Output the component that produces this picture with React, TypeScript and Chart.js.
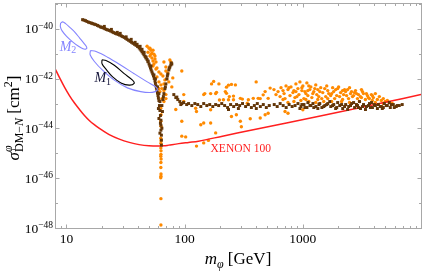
import React, { useEffect, useRef } from 'react';
import Chart from 'chart.js/auto';

// ---------- axis ranges ----------
const X_MIN = 8;
const X_MAX = 10000;
const Y_MIN = 1e-48;
const Y_MAX = 1e-39;
const xMajorTicks = [10, 100, 1000];
const xTickLabels = ['10', '100', '1000'];
const yMajorExps = [-40, -42, -44, -46, -48];
const yMinorExps = [-39, -41, -43, -45, -47];

// ---------- data: [mass (GeV), log10(sigma / cm^2)] ----------
const xenon100: [number, number][] = [
  [8.0, -41.59], [8.76, -41.97], [9.65, -42.35], [10.6, -42.68], [11.7, -42.98], [12.9, -43.24],
  [14.2, -43.48], [15.6, -43.68], [17.2, -43.85], [19.0, -44.0], [20.9, -44.13], [23.0, -44.25],
  [28.0, -44.43], [34.0, -44.56], [41.2, -44.65], [49.9, -44.7], [60.6, -44.71], [66.8, -44.7],
  [73.5, -44.67], [89.2, -44.61], [108, -44.56], [131, -44.51], [209, -44.31], [419, -44.01],
  [1340, -43.52], [3520, -43.1], [10000, -42.64],
];

const contourM2: [number, number][] = [
  [8.93, -39.77], [9.28, -39.72], [9.84, -39.79], [10.63, -39.93], [11.71, -40.12], [12.9, -40.36],
  [14.07, -40.58], [14.85, -40.74], [14.63, -40.81], [13.8, -40.8], [12.65, -40.7], [11.27, -40.52],
  [10.03, -40.3], [9.19, -40.08], [8.88, -39.91], [8.93, -39.77],
];

const contourM1Outer: [number, number][] = [
  [15.95, -40.87], [17.82, -40.91], [22.3, -41.14], [28.9, -41.46], [37.4, -41.8], [48.3, -42.13],
  [56.9, -42.33], [58.6, -42.46], [53.2, -42.55], [42.5, -42.52], [32.8, -42.37], [25.4, -42.06],
  [20.2, -41.66], [17.24, -41.31], [15.86, -41.04], [15.95, -40.87],
];

const contourM1Inner: [number, number][] = [
  [20.0, -41.24], [21.6, -41.27], [25.4, -41.46], [30.8, -41.8], [36.2, -42.06], [37.4, -42.19],
  [33.9, -42.26], [28.9, -42.17], [24.6, -41.93], [21.6, -41.62], [20.0, -41.4], [20.0, -41.24],
];

const brownLeftBranch: [number, number][] = [
  [13.7, -39.63], [14.5, -39.67], [15.35, -39.73], [16.3, -39.77], [17.2, -39.81], [18.3, -39.86],
  [19.4, -39.92], [20.5, -39.96], [21.7, -40.02], [23.0, -40.06], [24.4, -40.12], [25.9, -40.18],
  [27.4, -40.22], [29.1, -40.28], [30.8, -40.34], [32.6, -40.42], [34.6, -40.5], [36.6, -40.58],
  [38.8, -40.66], [41.2, -40.76], [42.8, -40.86], [44.5, -40.98], [46.2, -41.1], [48.1, -41.23],
  [50.0, -41.41], [51.4, -41.57], [52.9, -41.73], [54.5, -41.89], [56.1, -42.09], [57.2, -42.29],
  [58.3, -42.48], [59.5, -42.68], [60.6, -42.88], [61.2, -43.08], [61.8, -43.28], [62.4, -43.48],
  [63.0, -43.67], [63.0, -43.87], [63.0, -44.07], [63.6, -44.27], [63.6, -44.47], [63.6, -44.67],
  [20.9, -39.9], [24.0, -40.02], [26.9, -40.14], [28.5, -40.18], [32.0, -40.32], [35.3, -40.42],
  [38.1, -40.54], [39.6, -40.62], [42.0, -40.7], [43.6, -40.82], [45.4, -40.94], [47.1, -41.13],
  [49.0, -41.29], [51.9, -41.49], [55.0, -41.85], [56.6, -42.01], [58.9, -42.33], [60.6, -42.6],
  [61.8, -42.92], [60.0, -43.2], [62.4, -43.79], [61.8, -44.19], [64.2, -43.99], [60.6, -43.6],
  [64.9, -43.32],
  [14.1, -39.65], [14.9, -39.7], [15.8, -39.75], [16.7, -39.79], [17.7, -39.83], [18.8, -39.89],
  [19.9, -39.94], [21.1, -39.99], [22.3, -40.04], [23.7, -40.09], [25.1, -40.15], [26.6, -40.2],
  [28.2, -40.25], [29.9, -40.31], [31.7, -40.38], [33.6, -40.46], [35.6, -40.54], [37.7, -40.62],
  [40.0, -40.71], [42.0, -40.81], [43.6, -40.92], [45.3, -41.04], [47.1, -41.17], [49.0, -41.32],
  [50.7, -41.49], [52.1, -41.65], [53.7, -41.81], [55.3, -41.99], [56.6, -42.19], [57.7, -42.38],
  [58.9, -42.58], [60.0, -42.78],
];

const brownRightBranch: [number, number][] = [
  [64.2, -43.08], [65.5, -42.84], [66.8, -42.6], [68.1, -42.4], [69.4, -42.21], [70.7, -42.01],
  [72.1, -41.81], [73.5, -41.65], [75.0, -41.53], [76.4, -41.45], [77.9, -41.41], [66.1, -42.72],
  [68.7, -42.33], [71.4, -41.89], [74.2, -41.57], [77.2, -41.37],
  [81.0, -42.64], [84.2, -42.76], [87.5, -42.84], [91.0, -42.92], [94.6, -43.0], [85.9, -42.74],
  [92.8, -43.04],
];

const brownPlateau: [number, number][] = [
  [98, -42.96], [104, -43.04], [108, -43.0], [115, -43.08], [122, -43.0], [129, -43.04], [137, -43.12],
  [145, -43.0], [154, -43.08], [163, -43.04], [173, -43.12], [183, -43.04], [194, -43.08], [206, -43.0],
  [218, -43.08], [231, -43.16], [245, -43.04], [260, -43.12], [275, -43.04], [292, -43.08], [309, -43.0],
  [328, -43.12], [346, -43.04], [367, -43.16], [389, -43.08], [412, -43.0], [437, -43.12], [463, -43.04],
  [491, -43.16], [520, -43.08], [573, -43.04], [607, -43.12], [643, -43.0], [682, -43.08], [723, -43.16],
  [766, -43.04], [812, -43.12], [860, -43.08], [910, -43.0], [965, -43.12], [1023, -43.04], [1084, -43.16],
  [1149, -43.08], [1218, -43.0], [1291, -43.12], [1368, -43.04], [1450, -43.16], [1537, -43.08],
  [1626, -43.0], [1724, -43.12], [1827, -43.04], [1936, -43.16], [2052, -43.08], [2175, -43.2],
  [2305, -43.04], [2443, -43.12], [2589, -43.0], [2744, -43.16], [2904, -43.08], [3078, -43.2],
  [3262, -43.04], [3457, -43.12], [3664, -43.0], [3883, -43.16], [4115, -43.08], [4362, -43.04],
  [4622, -43.12], [4898, -43.0], [5188, -43.08], [5500, -43.16], [5830, -43.04], [6178, -43.12],
  [6547, -43.08], [6934, -43.04],
  [945, -43.2], [1104, -42.96], [1340, -43.2], [1690, -42.92], [1972, -42.96], [2393, -43.24],
  [2690, -42.96], [3020, -42.92], [3390, -43.24], [3810, -42.96], [4276, -43.2], [4800, -43.16],
  [5390, -42.96], [235, -43.24], [285, -43.2], [404, -43.2],
  [982, -43.04], [1041, -43.16], [1169, -43.08], [1238, -43.16], [1392, -43.0], [1503, -43.12],
  [1593, -43.04], [1788, -43.08], [1896, -43.2], [2129, -43.04], [2256, -43.12], [2534, -43.08],
  [2846, -43.04], [2958, -43.16], [3196, -43.12], [3589, -43.08], [3731, -43.16], [4030, -43.04],
  [4526, -43.12], [4705, -43.2], [5088, -43.08], [5610, -43.04], [5940, -43.16], [6295, -43.08],
];

const orangeResonance: [number, number][] = [
  [62.8, -43.19], [63.2, -43.45], [62.9, -43.71], [63.1, -43.91], [62.8, -44.39], [63.2, -44.49],
  [63.0, -44.59], [62.9, -44.79], [63.1, -44.9], [63.0, -45.04], [62.8, -45.12], [63.2, -45.23],
  [63.0, -45.37], [62.9, -45.57], [63.1, -45.83], [63.0, -45.92], [62.8, -45.98], [63.0, -46.82],
  [63.0, -47.88],
];

const orangeLowMass: [number, number][] = [
  [48.1, -40.7], [50.0, -40.78], [51.9, -40.86], [52.9, -40.98], [55.0, -41.02], [50.9, -41.09],
  [52.9, -41.17], [54.0, -41.29], [56.1, -41.21], [55.0, -41.41], [57.2, -41.61], [63.0, -41.81],
  [69.4, -41.53], [76.4, -41.33], [66.8, -41.33], [75.0, -41.25], [69.4, -41.69], [72.1, -41.77],
  [70.7, -42.01], [66.8, -42.21], [77.9, -42.33], [60.6, -42.4], [58.3, -41.93], [60.6, -42.13],
  [63.0, -42.25], [64.2, -42.4], [66.8, -42.48], [69.4, -42.64], [64.2, -42.8], [66.8, -42.92],
  [84.2, -43.24], [94.6, -41.69], [98.3, -42.64], [98.3, -42.92],
  [49.0, -40.94], [50.9, -40.78], [54.0, -40.86], [51.9, -41.02], [56.1, -41.09], [57.2, -41.33],
  [54.0, -41.49], [58.3, -41.57], [60.6, -41.73], [65.5, -41.89], [68.1, -42.05], [73.5, -42.13],
  [79.4, -41.97], [61.8, -42.52], [69.4, -42.8],
];

const orangeMidMass: [number, number][] = [
  [124, -43.19], [126, -43.32], [145, -42.64], [148, -42.6], [166, -42.6], [169, -42.21], [176, -42.11],
  [183, -42.6], [186, -42.55], [195, -42.21], [197, -42.86], [221, -42.52], [226, -42.34], [226, -42.59],
  [235, -42.26], [239, -42.72], [249, -42.23], [259, -42.7], [269, -42.25], [213, -42.85], [235, -42.85],
  [259, -42.85], [296, -42.79], [308, -42.82], [346, -42.85], [381, -42.79], [403, -42.13], [419, -42.79],
  [436, -42.8], [462, -42.65], [480, -42.52], [529, -42.38], [509, -42.79], [339, -42.99],
  [145, -43.78], [166, -43.78], [183, -44.18], [249, -43.52], [274, -43.45], [296, -43.71], [302, -43.93],
  [359, -43.61], [436, -43.58], [480, -43.45], [509, -43.39], [707, -43.32], [749, -43.39], [1001, -43.25],
  [166, -43.25], [94.6, -43.71], [137, -43.85], [94.6, -44.31], [102, -44.34], [126, -44.71],
  [145, -44.58], [159, -44.48],
];

const orangeHighMass: [number, number][] = [
  [654, -42.36], [721, -42.29], [794, -42.33], [874, -42.21], [945, -42.13], [1001, -42.29], [1082, -42.17],
  [1169, -42.33], [1287, -42.25], [1418, -42.36], [1593, -42.29], [1788, -42.36], [2009, -42.33],
  [2256, -42.44], [2485, -42.36], [2791, -42.48], [3134, -42.44],
  [617, -42.52], [680, -42.48], [749, -42.44], [825, -42.56], [909, -42.4], [982, -42.48], [1061, -42.6],
  [1146, -42.44], [1238, -42.52], [1338, -42.44], [1474, -42.56], [1624, -42.48], [1754, -42.6],
  [1896, -42.44], [2088, -42.56], [2300, -42.52], [2534, -42.6], [2737, -42.56], [2958, -42.64],
  [3258, -42.6], [3520, -42.68], [3803, -42.64],
  [642, -42.72], [707, -42.8], [779, -42.68], [858, -42.76], [927, -42.64], [1021, -42.8], [1103, -42.68],
  [1192, -42.76], [1312, -42.64], [1446, -42.8], [1562, -42.72], [1721, -42.68], [1859, -42.8],
  [2048, -42.72], [2213, -42.64], [2438, -42.8], [2634, -42.72], [2901, -42.8], [3134, -42.76],
  [3386, -42.84], [3659, -42.8], [3953, -42.76], [4271, -42.84], [4615, -42.88], [4986, -42.92],
  [5386, -42.96],
  [749, -42.96], [841, -42.92], [963, -42.88], [1124, -42.92], [1287, -42.96], [1503, -42.92],
  [1754, -42.92], [2129, -42.92], [2485, -42.96], [3016, -42.92], [4109, -42.96], [4797, -43.0],
  [5709, -43.0],
  [694, -42.6], [763, -42.36], [841, -42.48], [891, -42.72], [982, -42.36], [1041, -42.52], [1124, -42.29],
  [1215, -42.6], [1262, -42.4], [1365, -42.72], [1392, -42.52], [1532, -42.4], [1657, -42.6], [1824, -42.52],
  [1935, -42.68], [1972, -42.4], [2170, -42.48], [2347, -42.68], [2393, -42.44], [2584, -42.52],
  [2685, -42.68], [2846, -42.6], [3075, -42.72], [3196, -42.52], [3452, -42.6], [3589, -42.76],
  [3877, -42.68], [4109, -42.6], [4443, -42.72], [4797, -42.8], [5188, -42.88], [3877, -42.88],
  [2170, -42.84], [1624, -42.8], [1338, -42.84], [1061, -42.84], [680, -42.84], [593, -42.64],
  [570, -42.44], [874, -42.52], [1103, -42.48],
];

// annotation anchors [mass, log10 sigma]
const labelM2At: [number, number] = [8.76, -40.87];
const labelM1At: [number, number] = [17.24, -42.15];
const labelXenonAt: [number, number] = [165.7, -44.96];

// ---------- styles ----------
const SERIF = '"Liberation Serif", "Times New Roman", "DejaVu Serif", serif';
const FRAME = '#a8a8a8';
const RED = '#ff1f1f';
const ORANGE = '#ff8a00';
const BROWN = '#633608';
const LIGHTBLUE = '#8484ff';
const DARK = '#15153a';

type Run = { text: string; size: number; italic?: boolean; dy?: number; advance?: boolean };

function fontOf(r: Run) {
  return `${r.italic ? 'italic ' : ''}${r.size}px ${SERIF}`;
}
function measureRuns(ctx: CanvasRenderingContext2D, runs: Run[]) {
  let w = 0;
  for (const r of runs) {
    ctx.font = fontOf(r);
    if (r.advance !== false) w += ctx.measureText(r.text).width;
  }
  return w;
}
function drawRuns(ctx: CanvasRenderingContext2D, x: number, y: number, runs: Run[], color: string) {
  ctx.fillStyle = color;
  ctx.textAlign = 'left';
  ctx.textBaseline = 'alphabetic';
  let cx = x;
  for (const r of runs) {
    ctx.font = fontOf(r);
    ctx.fillText(r.text, cx, y + (r.dy || 0));
    if (r.advance !== false) cx += ctx.measureText(r.text).width;
  }
}

const toXY = (arr: [number, number][]) => arr.map(([m, e]) => ({ x: m, y: Math.pow(10, e) }));

const decorPlugin = {
  id: 'decor',
  afterDraw(chart: any) {
    const { ctx, chartArea: a, scales } = chart;
    const xs = scales.x;
    const ys = scales.y;
    ctx.save();
    const L = a.left + 0.5;
    const R = a.right + 0.5;
    const T = a.top - 0.5;
    const B = a.bottom + 0.5;
    ctx.strokeStyle = FRAME;
    ctx.lineWidth = 1;
    ctx.strokeRect(L, T, R - L, B - T);

    ctx.beginPath();
    const xTick = (v: number, len: number) => {
      const p = Math.round(xs.getPixelForValue(v)) + 0.5;
      ctx.moveTo(p, B); ctx.lineTo(p, B - len);
      ctx.moveTo(p, T); ctx.lineTo(p, T + len);
    };
    for (const v of xMajorTicks) xTick(v, 4);
    for (let d = 1; d <= 1000; d *= 10) {
      for (let k = 2; k <= 9; k++) {
        const v = k * d;
        if (v > X_MIN && v < X_MAX) xTick(v, 2.5);
      }
    }
    const yTick = (e: number, len: number) => {
      const p = Math.round(ys.getPixelForValue(Math.pow(10, e))) + 0.5;
      ctx.moveTo(L, p); ctx.lineTo(L + len, p);
      ctx.moveTo(R, p); ctx.lineTo(R - len, p);
    };
    for (const e of yMajorExps) yTick(e, 4);
    for (const e of yMinorExps) yTick(e, 2.5);
    ctx.stroke();

    ctx.fillStyle = '#000';
    ctx.font = `13.5px ${SERIF}`;
    ctx.textAlign = 'center';
    ctx.textBaseline = 'alphabetic';
    xMajorTicks.forEach((v, i) => {
      ctx.fillText(xTickLabels[i], xs.getPixelForValue(v), 243);
    });

    for (const e of yMajorExps) {
      const p = ys.getPixelForValue(Math.pow(10, e));
      const runs: Run[] = [
        { text: '10', size: 13.5 },
        { text: '\u2212' + String(-e), size: 9.5, dy: -4.5 },
      ];
      const w = measureRuns(ctx, runs);
      drawRuns(ctx, 53 - w, p + 4.5, runs, '#000');
    }

    const xt: Run[] = [
      { text: 'm', size: 17, italic: true },
      { text: '\u03C6', size: 12, italic: true, dy: 4 },
      { text: ' [GeV]', size: 17 },
    ];
    const xw = measureRuns(ctx, xt);
    drawRuns(ctx, (a.left + a.right) / 2 - xw / 2, 264, xt, '#000');

    const yt: Run[] = [
      { text: '\u03C3', size: 17, italic: true },
      { text: '\u03C6', size: 12, italic: true, dy: -7, advance: false },
      { text: 'DM\u2212', size: 12, dy: 4 },
      { text: 'N', size: 12, italic: true, dy: 4 },
      { text: ' [cm', size: 17 },
      { text: '2', size: 12, dy: -7 },
      { text: ']', size: 17 },
    ];
    const yw = measureRuns(ctx, yt);
    ctx.save();
    ctx.translate(19, (a.top + a.bottom) / 2 + 2);
    ctx.rotate(-Math.PI / 2);
    drawRuns(ctx, -yw / 2, 0, yt, '#000');
    ctx.restore();

    const at = (p: [number, number]) => [xs.getPixelForValue(p[0]), ys.getPixelForValue(Math.pow(10, p[1]))];
    const [m2x, m2y] = at(labelM2At);
    drawRuns(ctx, m2x, m2y, [
      { text: 'M', size: 14, italic: true },
      { text: '2', size: 10, dy: 2.5 },
    ], LIGHTBLUE);
    const [m1x, m1y] = at(labelM1At);
    drawRuns(ctx, m1x, m1y, [
      { text: 'M', size: 14, italic: true },
      { text: '1', size: 10, dy: 2.5 },
    ], DARK);
    const [xnx, xny] = at(labelXenonAt);
    drawRuns(ctx, xnx, xny, [{ text: 'XENON 100', size: 11.5 }], RED);

    ctx.restore();
  },
};

export default function App() {
  const ref = useRef<HTMLCanvasElement | null>(null);
  useEffect(() => {
    if (!ref.current) return;
    const contour = (d: [number, number][], color: string) => ({
      data: toXY(d),
      showLine: true,
      borderColor: color,
      borderWidth: 1.1,
      pointRadius: 0,
      tension: 0.35,
      fill: false,
      order: 0,
    });
    const chart = new Chart(ref.current, {
      type: 'scatter',
      data: {
        datasets: [
          contour(contourM2, LIGHTBLUE),
          contour(contourM1Outer, LIGHTBLUE),
          contour(contourM1Inner, '#000000'),
          {
            data: toXY([...brownLeftBranch, ...brownRightBranch, ...brownPlateau]),
            pointStyle: 'rect',
            pointRadius: 2.1,
            pointBackgroundColor: BROWN,
            pointBorderWidth: 0,
            order: 1,
          },
          {
            data: toXY(xenon100),
            showLine: true,
            borderColor: RED,
            borderWidth: 1.5,
            pointRadius: 0,
            cubicInterpolationMode: 'monotone',
            order: 2,
          },
          {
            data: toXY([...orangeResonance, ...orangeLowMass, ...orangeMidMass, ...orangeHighMass]),
            pointRadius: 1.7,
            pointBackgroundColor: ORANGE,
            pointBorderWidth: 0,
            order: 3,
          },
        ] as any,
      },
      options: {
        responsive: false,
        animation: false,
        devicePixelRatio: 1,
        events: [],
        layout: { padding: { top: 1, right: 1, left: 0, bottom: 0 } },
        plugins: { legend: { display: false }, tooltip: { enabled: false } },
        scales: {
          x: {
            type: 'logarithmic',
            min: X_MIN,
            max: X_MAX,
            ticks: { display: false },
            grid: { display: false },
            border: { display: false },
            afterFit: (s: any) => { s.height = 43; },
          },
          y: {
            type: 'logarithmic',
            min: Y_MIN,
            max: Y_MAX,
            ticks: { display: false },
            grid: { display: false },
            border: { display: false },
            afterFit: (s: any) => { s.width = 55; },
          },
        },
      } as any,
      plugins: [decorPlugin],
    });
    return () => chart.destroy();
  }, []);
  return (
    <div style={{ position: 'absolute', left: 0, top: 0, width: 425, height: 271, background: '#fff' }}>
      <canvas ref={ref} width={425} height={271} style={{ display: 'block' }} />
    </div>
  );
}
